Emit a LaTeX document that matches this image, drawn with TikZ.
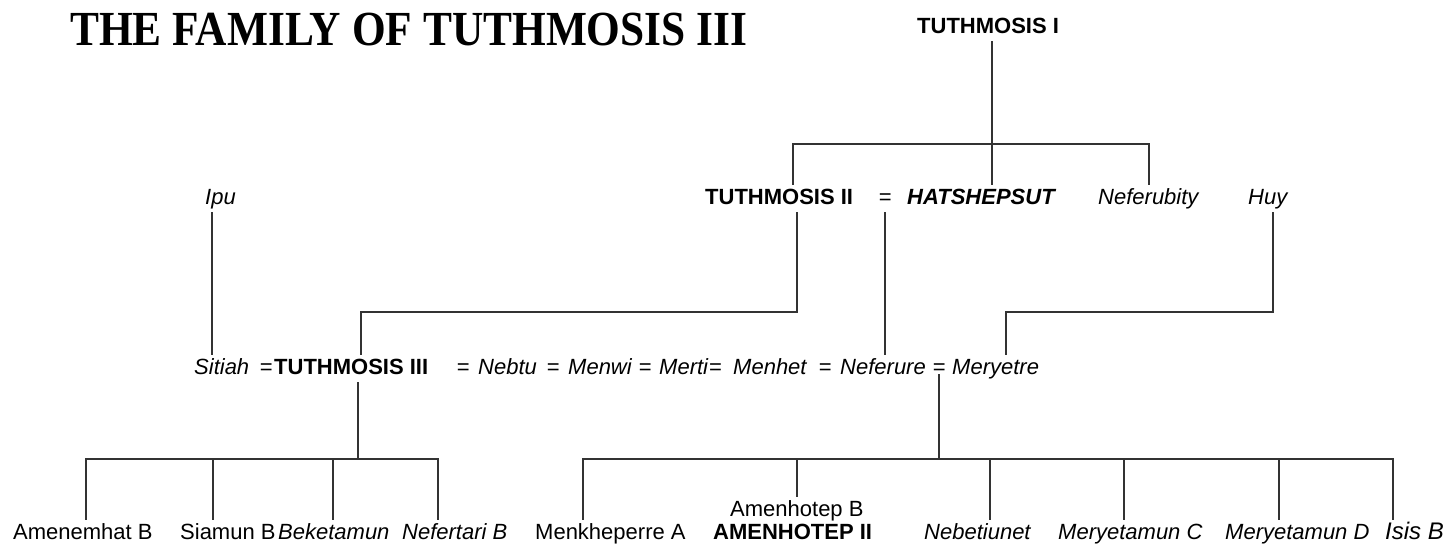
\documentclass[tikz,border=0pt]{standalone}
\usepackage{graphicx}
\usepackage{fontspec}
\setmainfont{Liberation Sans}
\newfontfamily\titlefont{Liberation Serif}
\begin{document}
\begin{tikzpicture}[x=1pt,y=-1pt,
  nm/.style={anchor=base west, inner xsep=0pt, inner ysep=3pt, text height=16pt, text depth=5pt, font=\fontsize{22}{26}\selectfont},
  it/.style={nm, font=\fontsize{22}{26}\selectfont\itshape},
  bf/.style={nm, font=\fontsize{22}{26}\selectfont\bfseries},
  bi/.style={nm, font=\fontsize{22}{26}\selectfont\bfseries\itshape},
  ln/.style={line width=1.6pt, draw=black!80}]
\useasboundingbox (0,0) rectangle (1447,546);
% title
\node[anchor=base west, inner sep=0pt, font=\titlefont\fontsize{49}{51}\selectfont\bfseries] (title) at (70,45) {\scalebox{0.885}[1]{THE FAMILY OF TUTHMOSIS III}};
% row 1
\node[bf] (t1) at (917,33) {TUTHMOSIS I};
% row 2
\node[it] (ipu) at (205,204) {Ipu};
\node[bf] (t2) at (705,204) {TUTHMOSIS II};
\node[nm] (eqh) at (878.6,204) {=};
\node[bi] (hat) at (907,204) {HATSHEPSUT};
\node[it] (nfb) at (1098,204) {Neferubity};
\node[it] (huy) at (1248,204) {Huy};
% row 3
\node[it] (sit) at (194,374) {Sitiah};
\node[nm] (eq1) at (259.6,374) {=};
\node[bf] (t3) at (274,374) {TUTHMOSIS III};
\node[nm] (eq2) at (456.6,374) {=};
\node[it] (neb) at (478,374) {Nebtu};
\node[nm] (eq3) at (546.6,374) {=};
\node[it] (mnw) at (568,374) {Menwi};
\node[nm] (eq4) at (638.6,374) {=};
\node[it] (mrt) at (659,374) {Merti};
\node[nm] (eq5) at (709,374) {=};
\node[it] (mnh) at (733,374) {Menhet};
\node[nm] (eq6) at (818.6,374) {=};
\node[it] (nfr) at (840,374) {Neferure};
\node[nm] (eqm) at (932.6,374) {=};
\node[it] (mry) at (952,374) {Meryetre};
% row 4
\node[nm] (amh) at (13,539) {Amenemhat B};
\node[nm] (sia) at (180,539) {Siamun B};
\node[it] (bek) at (278,539) {Beketamun};
\node[it] (nft) at (402,539) {Nefertari B};
\node[nm] (mkp) at (535,539) {Menkheperre A};
\node[nm] (ahb) at (730,516) {Amenhotep B};
\node[bf] (ah2) at (713,539) {AMENHOTEP II};
\node[it] (nbt) at (924,539) {Nebetiunet};
\node[it] (myc) at (1058,539) {Meryetamun C};
\node[it] (myd) at (1225,539) {Meryetamun D};
\node[nm, font=\fontsize{24}{28}\selectfont\itshape] (isb) at (1385,539) {Isis B};
% connectors: Tuthmosis I
\coordinate (a0) at (793,144);
\coordinate (a1) at (992,144);
\coordinate (a2) at (1149,144);
\draw[ln] (t1.south -| a1) -- (a1 |- hat.north);
\draw[ln] (a0 |- t2.north) -- (a0) -- (a2) -- (a2 |- nfb.north);
% row 2 to row 3
\coordinate (b0) at (212,0);
\draw[ln] (b0 |- ipu.south) -- (b0 |- sit.north);
\coordinate (b1) at (797,312);
\coordinate (b2) at (361,312);
\draw[ln] (b1 |- t2.south) -- (b1) -- (b2) -- (b2 |- t3.north);
\draw[ln] (eqh.south) -- (eqh.south |- nfr.north);
\coordinate (b3) at (1273,312);
\coordinate (b4) at (1006,312);
\draw[ln] (b3 |- huy.south) -- (b3) -- (b4) -- (b4 |- mry.north);
% Tuthmosis III children
\coordinate (c0) at (358,459);
\coordinate (d1) at (86,459);
\coordinate (d2) at (213,459);
\coordinate (d3) at (333,459);
\coordinate (d4) at (438,459);
\draw[ln] (c0 |- t3.south) -- (c0);
\draw[ln] (d1 |- amh.north) -- (d1) -- (d4) -- (d4 |- nft.north);
\draw[ln] (d2) -- (d2 |- sia.north);
\draw[ln] (d3) -- (d3 |- bek.north);
% Meryetre children
\coordinate (e0) at (939,459);
\coordinate (e1) at (583,459);
\coordinate (e2) at (797,459);
\coordinate (e3) at (990,459);
\coordinate (e4) at (1124,459);
\coordinate (e5) at (1279,459);
\coordinate (e6) at (1393,459);
\draw[ln] (eqm.base -| e0) -- (e0);
\draw[ln] (e1 |- mkp.north) -- (e1) -- (e6) -- (e6 |- isb.north);
\draw[ln] (e2) -- (e2 |- ahb.north);
\draw[ln] (e3) -- (e3 |- nbt.north);
\draw[ln] (e4) -- (e4 |- myc.north);
\draw[ln] (e5) -- (e5 |- myd.north);
\end{tikzpicture}
\end{document}
